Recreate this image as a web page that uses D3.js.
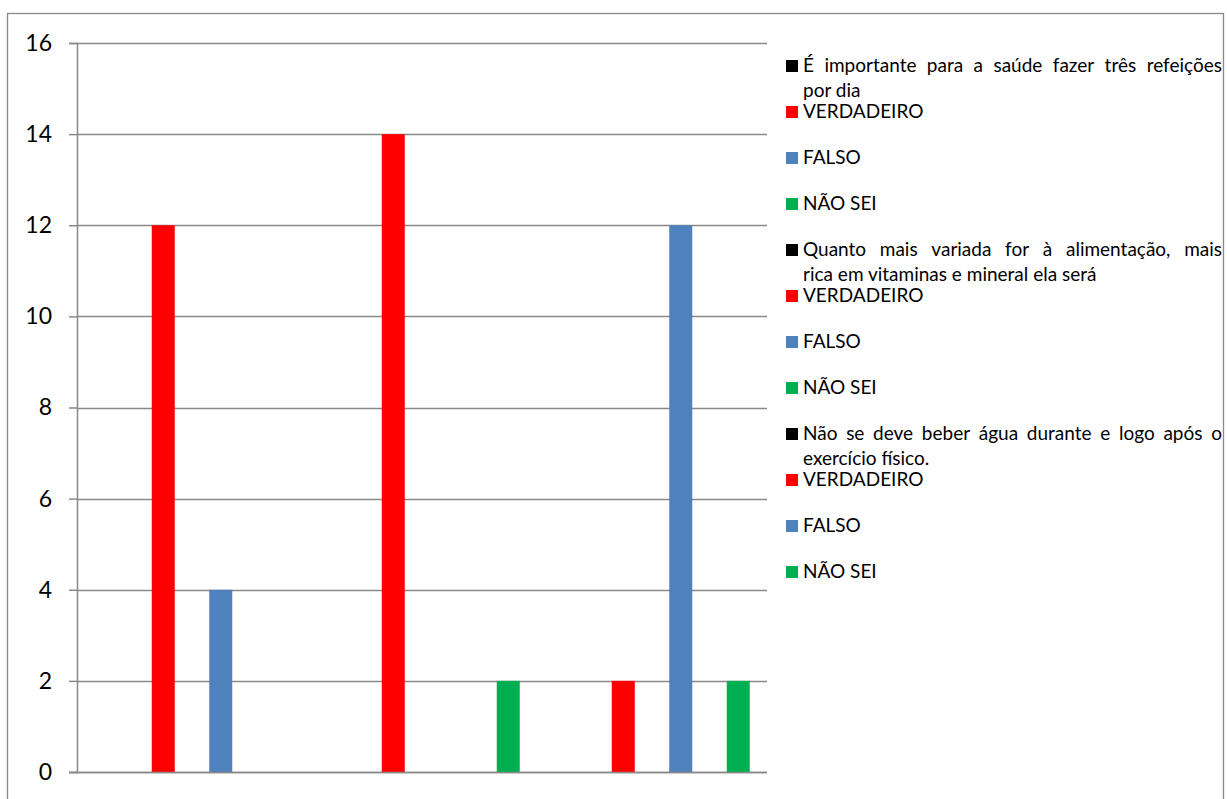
<!DOCTYPE html>
<html><head><meta charset="utf-8">
<script src="https://cdn.jsdelivr.net/npm/d3@7/dist/d3.min.js"></script>
<style>html,body{margin:0;padding:0;background:#fff;} svg{display:block;}</style>
</head><body>
<svg id="chart" width="1227" height="799"></svg>
<script>
// ---- data ----
const seriesNames = [
  "É importante para a saúde fazer três refeições por dia",
  "VERDADEIRO", "FALSO", "NÃO SEI",
  "Quanto mais variada for à alimentação, mais rica em vitaminas e mineral ela será",
  "VERDADEIRO", "FALSO", "NÃO SEI",
  "Não se deve beber água durante e logo após o exercício físico.",
  "VERDADEIRO", "FALSO", "NÃO SEI"
];
const legendLines = [
  ["É importante para a saúde fazer três refeições", "por dia"],
  ["VERDADEIRO"], ["FALSO"], ["NÃO SEI"],
  ["Quanto mais variada for à alimentação, mais", "rica em vitaminas e mineral ela será"],
  ["VERDADEIRO"], ["FALSO"], ["NÃO SEI"],
  ["Não se deve beber água durante e logo após o", "exercício físico."],
  ["VERDADEIRO"], ["FALSO"], ["NÃO SEI"]
];
const seriesValues = [0, 12, 4, 0, 0, 14, 0, 2, 0, 2, 12, 2];
const seriesColors = ["#000000", "#FF0000", "#4F81BD", "#00B050",
                      "#000000", "#FF0000", "#4F81BD", "#00B050",
                      "#000000", "#FF0000", "#4F81BD", "#00B050"];
const yTicks = [0, 2, 4, 6, 8, 10, 12, 14, 16];

// ---- layout ----
const svg = d3.select("#chart");
const FONT = "Lato, 'Open Sans', sans-serif";
const plot = {left: 77, right: 767, top: 43, bottom: 772};
const axisColor = "#898989";

// outer frame
svg.append("rect").attr("x", 7.5).attr("y", 13.5).attr("width", 1216).attr("height", 800)
  .attr("fill", "none").attr("stroke", axisColor).attr("stroke-width", 1.3);

const x = d3.scaleBand().domain(d3.range(seriesValues.length))
  .range([plot.left, plot.right]).paddingInner(0.6).paddingOuter(0.3);
const y = d3.scaleLinear().domain([0, 16]).range([plot.bottom, plot.top]);

// gridlines
svg.append("g").selectAll("line").data(yTicks).join("line")
  .attr("x1", plot.left).attr("x2", plot.right)
  .attr("y1", d => Math.round(y(d)) + 0.5).attr("y2", d => Math.round(y(d)) + 0.5)
  .attr("stroke", axisColor).attr("stroke-width", 1.5);

// y axis
const yAxis = d3.axisLeft(y).tickValues(yTicks).tickSize(8).tickPadding(17).tickFormat(d3.format("d"));
const gy = svg.append("g").attr("transform", `translate(${plot.left},0)`).call(yAxis);
gy.select(".domain").attr("stroke", axisColor).attr("stroke-width", 1.5);
gy.selectAll(".tick line").attr("stroke", axisColor).attr("stroke-width", 1.5);
gy.selectAll(".tick text").attr("fill", "#000").style("font-family", FONT).style("font-size", "23px");

// bars
svg.append("g").selectAll("rect").data(seriesValues).join("rect")
  .attr("x", (d, i) => x(i)).attr("width", x.bandwidth())
  .attr("y", d => y(d)).attr("height", d => y(0) - y(d))
  .attr("fill", (d, i) => seriesColors[i]);

// x axis baseline (over bars)
svg.append("line").attr("x1", plot.left - 8).attr("x2", plot.right)
  .attr("y1", Math.round(y(0)) + 0.5).attr("y2", Math.round(y(0)) + 0.5)
  .attr("stroke", axisColor).attr("stroke-width", 1.5);

// legend
const lg = {sqX: 786, sqSize: 12, textX: 803, right: 1222, firstBase: 72, step: 46, lineH: 25};
const legend = svg.append("g").style("font-family", FONT).style("font-size", "19px");
legendLines.forEach((lines, i) => {
  const base = lg.firstBase + i * lg.step;
  legend.append("rect").attr("x", lg.sqX).attr("y", base - lg.sqSize)
    .attr("width", lg.sqSize).attr("height", lg.sqSize).attr("fill", seriesColors[i]);
  lines.forEach((line, j) => {
    const yy = base + j * lg.lineH;
    const justify = j < lines.length - 1;
    if (!justify) {
      legend.append("text").attr("x", lg.textX).attr("y", yy).attr("fill", "#000").text(line);
    } else {
      const words = line.split(" ");
      const g = legend.append("g");
      const nodes = words.map(w => g.append("text").attr("y", yy).attr("fill", "#000").text(w));
      const widths = nodes.map(n => n.node().getComputedTextLength());
      const total = d3.sum(widths);
      const gap = (lg.right - lg.textX - total) / (words.length - 1);
      let cx = lg.textX;
      nodes.forEach((n, k) => { n.attr("x", cx); cx += widths[k] + gap; });
    }
  });
});
</script>
</body></html>
